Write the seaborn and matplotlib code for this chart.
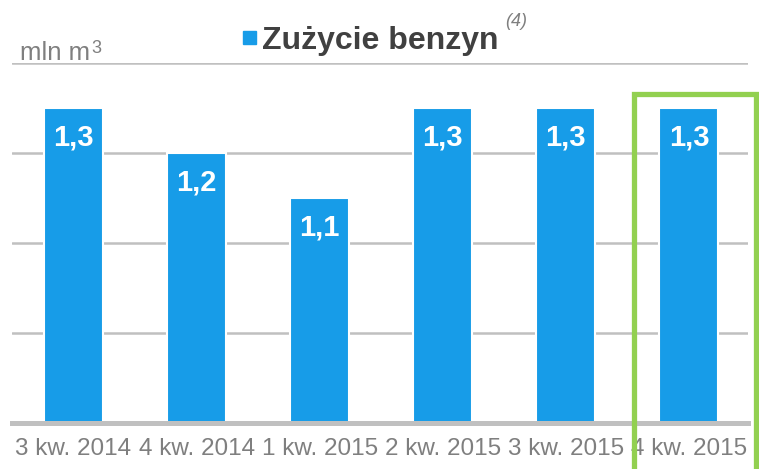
import pandas as pd
import seaborn as sns
import matplotlib.pyplot as plt
from matplotlib.patches import Rectangle

# data
quarters = ['3 kw. 2014', '4 kw. 2014', '1 kw. 2015', '2 kw. 2015', '3 kw. 2015', '4 kw. 2015']
consumption = [1.3, 1.2, 1.1, 1.3, 1.3, 1.3]
value_labels = ['1,3', '1,2', '1,1', '1,3', '1,3', '1,3']
highlight_idx = 5

BLUE = '#179CE8'
GRID = '#C0C0C0'
GREY_TXT = '#7F7F7F'
GREEN = '#92D050'

sns.set_theme(style='white')
plt.rcParams['font.family'] = ['Liberation Sans', 'DejaVu Sans']

df = pd.DataFrame({'kwartal': quarters, 'zuzycie': consumption})

fig = plt.figure(figsize=(7.59, 4.69), dpi=100)
ax = fig.add_axes([12 / 759, 1 - 423 / 469, 736 / 759, 360 / 469])

sns.barplot(data=df, x='kwartal', y='zuzycie', color=BLUE, width=0.48,
            edgecolor='white', linewidth=1.5, saturation=1, ax=ax, zorder=3)

ax.set_ylim(0.6, 1.4)
ax.set_xlim(-0.5, len(quarters) - 0.52)
ax.set_yticks([0.8, 1.0, 1.2, 1.4])
ax.yaxis.grid(True, color=GRID, linewidth=1.8)
ax.set_axisbelow(True)
ax.tick_params(axis='y', left=False, labelleft=False)
ax.tick_params(axis='x', bottom=False, pad=5, labelsize=17.5, labelcolor=GREY_TXT)
ax.set_xlabel('')
ax.set_ylabel('')
for side in ['top', 'right', 'left']:
    ax.spines[side].set_visible(False)
ax.spines['bottom'].set_color(GRID)
ax.spines['bottom'].set_linewidth(3.6)
ax.spines['bottom'].set_zorder(4)

# value labels inside the bars
for i, (v, lab) in enumerate(zip(consumption, value_labels)):
    ax.annotate(lab, (i, v), xytext=(0, -21.5), textcoords='offset points',
                ha='center', va='center', color='white', fontsize=21,
                fontweight='bold', zorder=5)

# green box round the latest quarter
ax.add_patch(Rectangle((highlight_idx - 0.447, 0.3), 0.99, 1.33 - 0.3,
                       fill=False, edgecolor=GREEN, linewidth=3.8,
                       clip_on=False, zorder=6))

# legend-like title
fig.patches.append(Rectangle((243 / 759, 1 - 44 / 469), 13 / 759, 13 / 469,
                             transform=fig.transFigure, color=BLUE))
fig.text(262 / 759, 1 - 49 / 469, 'Zużycie benzyn', fontsize=23,
         fontweight='bold', color='#404040', va='baseline', ha='left')
fig.text(505 / 759, 1 - 26 / 469, '(4)', fontsize=13, style='italic',
         color=GREY_TXT, va='baseline', ha='left')
unit = fig.text(20 / 759, 1 - 60 / 469, 'mln m', fontsize=18.5, color=GREY_TXT,
                va='baseline', ha='left')
fig.text(91 / 759, 1 - 53 / 469, '3', fontsize=13, color=GREY_TXT,
         va='baseline', ha='left')

fig.savefig('out.png', dpi=100)
